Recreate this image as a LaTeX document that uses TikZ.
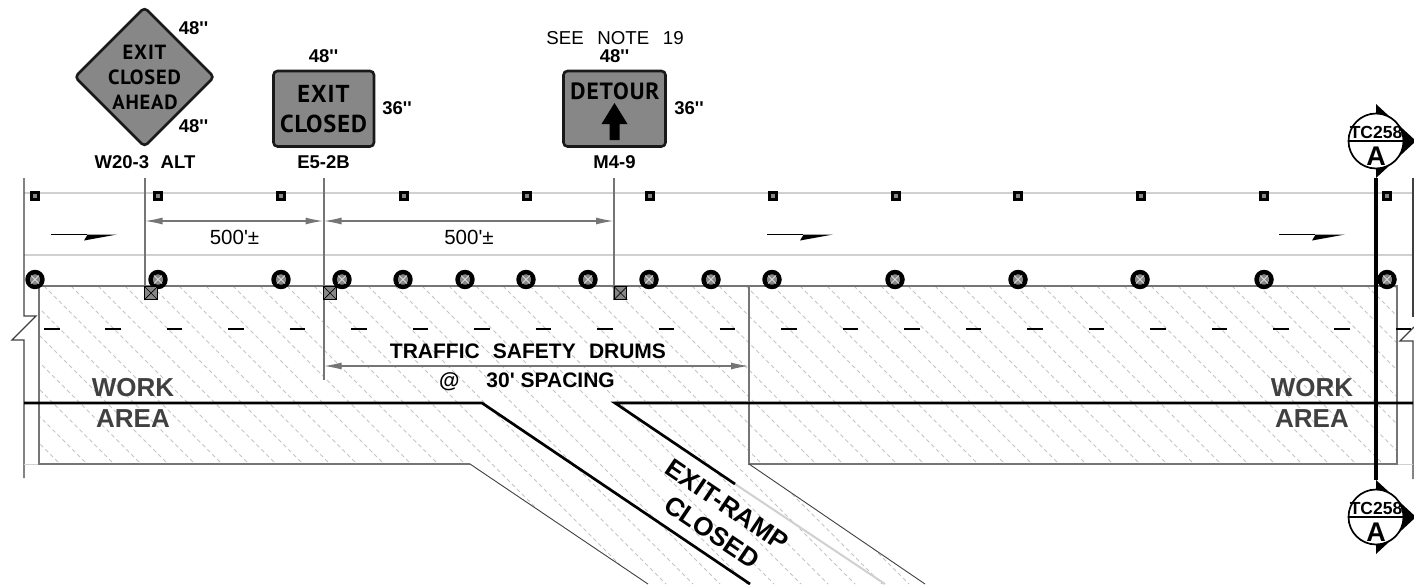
\documentclass[tikz,border=0pt]{standalone}
\usepackage{fontspec}
\setmainfont{Liberation Sans}
\newfontfamily\signfont[LetterSpace=4,BoldFont={PT Sans Bold}]{PT Sans}
\usetikzlibrary{arrows.meta,calc}
\definecolor{signgray}{HTML}{878787}
\definecolor{linegray}{HTML}{757575}
\definecolor{lightline}{HTML}{D0D0D0}
\definecolor{hatchgray}{HTML}{C4C4C4}
\definecolor{worktext}{HTML}{404040}
\newcommand{\inchmark}{\textquotesingle\textquotesingle}
\tikzset{
  x=1pt,y=-1pt,
  signplate/.style={draw=black!90,fill=signgray,line width=2.6pt,rounded corners=4pt},
  signtext/.style={font=\signfont\bfseries\fontsize{20.5}{20.5}\selectfont,inner sep=0pt,text=black},
  signtextb/.style={font=\signfont\bfseries\fontsize{24.5}{24.5}\selectfont,inner sep=0pt,text=black},
  signtextc/.style={font=\signfont\bfseries\fontsize{23.5}{23.5}\selectfont,inner sep=0pt,text=black},
  sizetext/.style={font=\bfseries\fontsize{18.5}{18.5}\selectfont,inner sep=0pt},
  labeltext/.style={font=\bfseries\fontsize{18.5}{18.5}\selectfont,inner sep=0pt},
  roadlabel/.style={font=\bfseries\fontsize{21}{21}\selectfont,inner sep=0pt},
  plaintext/.style={font=\fontsize{18.7}{18.7}\selectfont,inner sep=0pt},
  dimtext/.style={font=\fontsize{20.5}{20.5}\selectfont,inner sep=0pt},
  areatext/.style={font=\bfseries\fontsize{26}{26}\selectfont,inner sep=0pt,text=worktext},
  ramptext/.style={font=\bfseries\fontsize{26}{26}\selectfont,inner sep=0pt,rotate=-34},
  post/.style={draw=linegray,line width=2pt},
  dimline/.style={draw=linegray,line width=1.6pt,{Latex[length=18pt,width=7pt,color=linegray]}-{Latex[length=18pt,width=7pt,color=linegray]}},
  mainline/.style={draw=black,line width=2.7pt},
  edgeline/.style={draw=black!75,line width=1.3pt},
  workedge/.style={draw=linegray,line width=1.7pt},
  hatchline/.style={draw=hatchgray,line width=.9pt,dash pattern=on 4pt off 3pt},
  drum/.style={circle,draw=black,fill=signgray,line width=4.4pt,minimum size=15pt,inner sep=0pt},
  delineator/.style={rectangle,draw=black,fill=signgray,line width=3pt,minimum size=7.5pt,inner sep=0pt},
  basebox/.style={rectangle,draw=black,fill=signgray,line width=1pt,minimum size=12.5pt,inner sep=0pt},
  sectioncirc/.style={circle,draw=black,fill=white,line width=1.7pt,minimum size=55pt,inner sep=0pt},
}
\begin{document}
\begin{tikzpicture}
\useasboundingbox (0,0) rectangle (1414,584);
% hatch
\begin{scope}
\clip (39,286) -- (1397,286) -- (1397,464) -- (749,464) -- (925,584) -- (648,584) -- (470,464) -- (39,464) -- cycle;
\foreach \i in {-10,...,60} \draw[hatchline] (\i*27+17,286) -- ++(320,320);
\end{scope}
% roadway edges
\draw[lightline,line width=1.6pt] (24,193) -- (1414,193);
\draw[lightline,line width=2.6pt] (24,255) -- (1414,255);
\draw[edgeline] (24,178) -- (24,316) -- (36,316) -- (12,340) -- (24,340) -- (24,478);
\draw[edgeline] (1413,178) -- (1413,317);
\draw[edgeline] (1414,327) -- (1400,341) -- (1413,341) -- (1413,479);
\draw[lightline,line width=1pt] (24,464) -- (39,464);
\draw[lightline,line width=1pt] (1397,464) -- (1413,464);
% work area
\draw[workedge] (39,286) -- (1397,286) -- (1397,464) -- (749,464) -- (749,286);
\draw[workedge] (39,286) -- (39,464) -- (470,464);
\draw[edgeline,line width=.9pt] (470,464) -- (648,584);
\draw[edgeline,line width=.9pt] (749,464) -- (925,584);
% lane line
\foreach \i in {0,...,22} \draw[black,line width=2.4pt] ({44+\i*61.45},329) -- ++(15.5,0);
% main lines
\draw[mainline] (24,403) -- (482,403) -- (750,584);
\draw[lightline,line width=2pt] (735,484) -- (885,584);
\draw[lightline,line width=1pt] (615,401.5) -- (749,401.5);
\draw[mainline] (1413,403) -- (615,403) -- (735,484);
% delineators
\foreach \x [count=\n] in {35,158,281,404,527,650,773,896,1018,1141,1264,1387}
  \node[delineator] (d\n) at (\x,196) {};
% traffic arrows
\foreach \x in {51,767,1279} {
  \draw[black,line width=1.6pt] (\x,234.5) -- ++(36,0);
  \fill[black] (\x+36,234.5) -- (\x+66,234.5) -- (\x+33,240.5) -- (\x+36,235.5) -- cycle;
}
% posts
\coordinate (p1t) at (144.5,178); \coordinate (p1b) at (144.5,300);
\coordinate (p2t) at (323.5,178); \coordinate (p2b) at (323.5,380);
\coordinate (p3t) at (614,178);   \coordinate (p3b) at (614,300);
\draw[post] (p1t) -- (p1b);
\draw[post] (p2t) -- (p2b);
\draw[post] (p3t) -- (p3b);
% drums
\foreach \x [count=\n] in {35,158,281,342,403,465,526,588,649,711,772,895,1018,1140,1264,1387} {
  \node[drum] (t\n) at (\x,279.5) {};
  \draw[white!85!black,line width=.9pt] (\x-4,275.5) -- (\x+4,283.5) (\x-4,283.5) -- (\x+4,275.5);
}
% sign bases
\foreach \x [count=\n] in {151,330,620.5} {
  \node[basebox] (b\n) at (\x,293) {};
  \draw[black,line width=.7pt] (b\n.north west) -- (b\n.south east) (b\n.south west) -- (b\n.north east);
}
% dimensions
\coordinate (a1) at (144.5,221); \coordinate (a2) at (323.5,221); \coordinate (a3) at (614,221);
\coordinate (c1) at (323.5,366); \coordinate (c2) at (749,366);
\draw[dimline] (a1) -- (a2);
\draw[dimline] (a2) -- (a3);
\draw[dimline] (c1) -- (c2);
\node[dimtext] (dl1) at (234.5,237) {500\textquotesingle±};
\node[dimtext] (dl2) at (469,237) {500\textquotesingle±};
\node[roadlabel] (tsd) at (528,351) {TRAFFIC\hspace{.35em} SAFETY\hspace{.35em} DRUMS};
\node[roadlabel] (sp) at (527,382) {@\hspace{1em} 30\textquotesingle{} SPACING};
% signs
\draw[signplate] (144.5,7.5) -- (214,77) -- (144.5,146.5) -- (75,77) -- cycle;
\node[signtext] (s1a) at (144.5,52) {EXIT};
\node[signtext] (s1b) at (144.5,77) {CLOSED};
\node[signtext] (s1c) at (145,102) {AHEAD};
\node[sizetext] (s1w) at (193.5,28) {48\inchmark};
\node[sizetext] (s1h) at (193.5,126) {48\inchmark};
\node[labeltext] (s1l) at (145,162) {W20-3\hspace{.35em} ALT};
\draw[signplate] (273.5,71) rectangle (374,146.5);
\node[signtextb] (s2a) at (323.5,94) {EXIT};
\node[signtextb] (s2b) at (323.5,124) {CLOSED};
\node[sizetext] (s2w) at (323.5,56) {48\inchmark};
\node[sizetext] (s2h) at (397,108.5) {36\inchmark};
\node[labeltext] (s2l) at (323.5,162) {E5-2B};
\draw[signplate] (563.5,71) rectangle (665.5,146.5);
\node[signtextc] (s3a) at (615,91) {DETOUR};
\fill[black] (614.5,103) -- (627.5,124) -- (619.5,124) -- (619.5,140) -- (609.5,140) -- (609.5,124) -- (601.5,124) -- cycle;
\node[sizetext] (s3w) at (614.5,56) {48\inchmark};
\node[sizetext] (s3h) at (689,108.5) {36\inchmark};
\node[labeltext] (s3l) at (614.5,162) {M4-9};
\node[plaintext] (note) at (615,38) {SEE\hspace{.45em} NOTE\hspace{.45em} 19};
% area and ramp text
\node[areatext] (w1) at (133,388) {WORK};
\node[areatext] (w2) at (133,419) {AREA};
\node[areatext] (w3) at (1312,388) {WORK};
\node[areatext] (w4) at (1312,419) {AREA};
\node[ramptext] (r1) at (727,505) {EXIT-RAMP};
\node[ramptext] (r2) at (712,532) {CLOSED};
% section markers
\coordinate (top1) at (1376,178); \coordinate (bot1) at (1376,480);
\draw[black,line width=3.6pt] (top1) -- (bot1);
\foreach \y/\n in {141/a,517/b} {
  \fill[black] (1376,\y-37) -- (1416,\y) -- (1376,\y+37) -- cycle;
  \node[sectioncirc] (m\n) at (1376,\y) {};
  \draw[black,line width=2pt] (m\n.west) -- (m\n.east);
  \node[inner sep=0pt,font=\bfseries\fontsize{17.5}{17.5}\selectfont] (m\n t) at (1376,\y-8.5) {TC258};
  \node[inner sep=0pt,font=\bfseries\fontsize{27}{27}\selectfont] (m\n l) at (1376,\y+15) {A};
}
\end{tikzpicture}
\end{document}
